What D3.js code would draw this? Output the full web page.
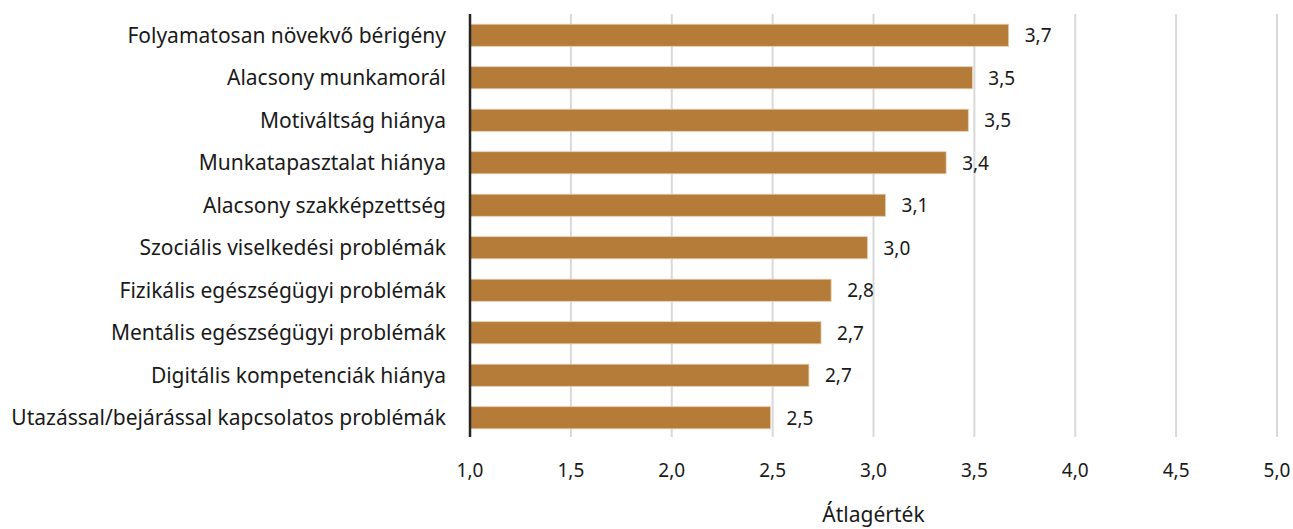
<!DOCTYPE html>
<html>
<head>
<meta charset="utf-8">
<script src="https://cdn.jsdelivr.net/npm/d3@7"></script>
<style>
    body { margin: 0; background: #fff; }
    text { font-family: "Noto Sans", sans-serif; }
</style>
</head>
<body>
<script>
// data
var categories = [
    "Folyamatosan növekvő bérigény",
    "Alacsony munkamorál",
    "Motiváltság hiánya",
    "Munkatapasztalat hiánya",
    "Alacsony szakképzettség",
    "Szociális viselkedési problémák",
    "Fizikális egészségügyi problémák",
    "Mentális egészségügyi problémák",
    "Digitális kompetenciák hiánya",
    "Utazással/bejárással kapcsolatos problémák"
];
var values = [3.67, 3.49, 3.47, 3.36, 3.06, 2.97, 2.79, 2.74, 2.68, 2.49];
var labels = ["3,7", "3,5", "3,5", "3,4", "3,1", "3,0", "2,8", "2,7", "2,7", "2,5"];
var ticks = [1.0, 1.5, 2.0, 2.5, 3.0, 3.5, 4.0, 4.5, 5.0];
var axisTitle = "Átlagérték";

var width = 1293, height = 529;
var plotLeft = 470, plotRight = 1277, plotTop = 14, plotBottom = 439;

var svg = d3.select("body")
    .append("svg")
    .attr("width", width)
    .attr("height", height);

var x = d3.scaleLinear()
    .domain([1, 5])
    .range([plotLeft, plotRight]);

var y = d3.scaleBand()
    .domain(categories)
    .range([plotTop, plotBottom])
    .paddingInner(0.48)
    .paddingOuter(0.24);

// gridlines
svg.append("g")
    .selectAll("line")
    .data(ticks.slice(1))
    .enter()
    .append("line")
        .attr("x1", d => x(d))
        .attr("x2", d => x(d))
        .attr("y1", plotTop)
        .attr("y2", plotBottom - 2)
        .attr("stroke", "#d9d9d9")
        .attr("stroke-width", 2);

// bars
svg.append("g")
    .selectAll("rect")
    .data(values)
    .enter()
    .append("rect")
        .attr("x", x(1))
        .attr("y", (d, i) => y(categories[i]))
        .attr("width", d => x(d) - x(1))
        .attr("height", y.bandwidth())
        .attr("fill", "#b57b38")
        .attr("stroke", "#e6cfae")
        .attr("stroke-width", 0.8);

// value labels
svg.append("g")
    .selectAll("text")
    .data(values)
    .enter()
    .append("text")
        .text((d, i) => labels[i])
        .attr("x", d => x(d) + 16)
        .attr("y", (d, i) => y(categories[i]) + y.bandwidth() / 2)
        .attr("dy", "0.36em")
        .attr("font-size", "19px")
        .attr("fill", "#1a1a1a");

// category labels
svg.append("g")
    .selectAll("text")
    .data(categories)
    .enter()
    .append("text")
        .text(d => d)
        .attr("x", plotLeft - 24)
        .attr("y", d => y(d) + y.bandwidth() / 2)
        .attr("dy", "0.36em")
        .attr("text-anchor", "end")
        .attr("font-size", "21px")
        .attr("fill", "#1a1a1a");

// y axis line
svg.append("line")
    .attr("x1", plotLeft)
    .attr("x2", plotLeft)
    .attr("y1", plotTop)
    .attr("y2", plotBottom - 2)
    .attr("stroke", "#262626")
    .attr("stroke-width", 2.5);

// x tick labels
svg.append("g")
    .selectAll("text")
    .data(ticks)
    .enter()
    .append("text")
        .text(d => d.toFixed(1).replace(".", ","))
        .attr("x", d => x(d))
        .attr("y", 470)
        .attr("dy", "0.36em")
        .attr("text-anchor", "middle")
        .attr("font-size", "19px")
        .attr("fill", "#1a1a1a");

// axis title
svg.append("text")
    .text(axisTitle)
    .attr("x", (plotLeft + plotRight) / 2)
    .attr("y", 522)
    .attr("text-anchor", "middle")
    .attr("font-size", "21px")
    .attr("fill", "#1a1a1a");
</script>
</body>
</html>
